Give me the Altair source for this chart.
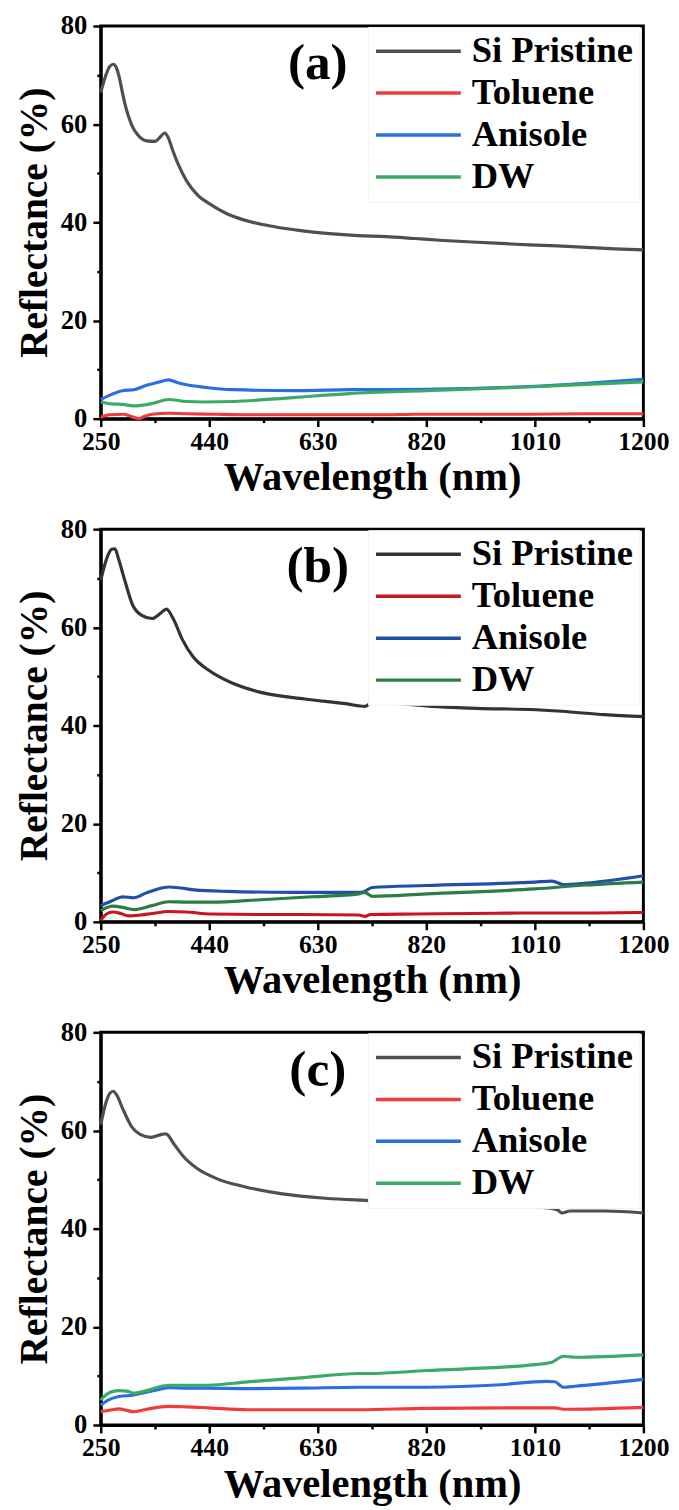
import altair as alt
import pandas as pd

SERIES = ["Si Pristine", "Toluene", "Anisole", "DW"]
PANEL_LABELS = ["(a)", "(b)", "(c)"]
X_TICKS = [250, 345, 440, 535, 630, 725, 820, 915, 1010, 1105, 1200]
Y_TICKS = [0, 10, 20, 30, 40, 50, 60, 70, 80]

COLORS_A = ["#4f4f4f", "#ef3b3b", "#2a6fe0", "#3aaa64"]
COLORS_B = ["#333333", "#c8161e", "#1f4fa6", "#2a7d45"]
COLORS_C = ["#4f4f4f", "#ef3b3b", "#2a6fe0", "#3aaa64"]

# ---------------- Panel (a) ----------------
A_SI_WL = [250, 260, 266, 272, 277, 282, 287, 292, 298, 305, 315, 330, 345, 355, 362, 368, 375, 385, 400,
           420, 440, 470, 500, 550, 600, 650, 700, 750, 800, 850, 900, 950, 1000, 1050, 1100, 1150, 1200]
A_SI_R = [66.5, 70.3, 71.8, 72.2, 71.6, 69.8, 67.0, 64.3, 61.8, 59.6, 57.8, 56.6, 56.5, 57.5, 58.2, 57.3,
          55.0, 52.0, 48.5, 45.5, 43.8, 41.8, 40.5, 39.2, 38.3, 37.7, 37.3, 37.1, 36.7, 36.3, 36.0, 35.7,
          35.4, 35.2, 34.9, 34.6, 34.4]
A_TO_WL = [250, 265, 290, 300, 310, 317, 325, 340, 370, 400, 450, 500, 600, 700, 750, 800, 900, 1000, 1100, 1200]
A_TO_R = [0.3, 0.8, 0.9, 0.6, 0.2, 0.0, 0.4, 0.9, 1.1, 1.0, 0.9, 0.8, 0.8, 0.8, 0.8, 0.9, 0.9, 0.9, 1.0, 1.0]
A_AN_WL = [250, 270, 288, 308, 330, 350, 369, 385, 400, 431, 483, 587, 685, 820, 1010, 1100, 1200]
A_AN_R = [3.9, 5.0, 5.7, 5.9, 6.8, 7.4, 7.9, 7.3, 6.9, 6.4, 5.9, 5.7, 5.9, 6.0, 6.6, 7.2, 8.0]
A_DW_WL = [250, 270, 288, 308, 340, 369, 400, 431, 483, 587, 685, 820, 1010, 1100, 1200]
A_DW_R = [3.4, 3.0, 2.9, 2.6, 3.1, 3.9, 3.5, 3.4, 3.5, 4.3, 5.1, 5.7, 6.5, 7.0, 7.5]

# ---------------- Panel (b) ----------------
B_SI_WL = [250, 262, 269, 275, 281, 291, 306, 321, 340, 355, 365, 378, 393, 411, 441, 479, 532, 607, 682,
           712, 727, 757, 832, 907, 1012, 1057, 1132, 1200]
B_SI_R = [69.6, 74.5, 75.9, 76.0, 74.0, 70.0, 64.5, 62.5, 61.8, 62.9, 63.7, 61.5, 57.5, 54.1, 51.1, 48.7,
          46.7, 45.4, 44.4, 43.9, 44.8, 44.6, 43.9, 43.5, 43.2, 42.9, 42.2, 41.8]
B_TO_WL = [250, 260, 271, 285, 299, 320, 340, 369, 400, 443, 530, 600, 702, 713, 722, 800, 900, 1000, 1100, 1200]
B_TO_R = [0.3, 1.6, 2.0, 1.7, 1.2, 1.4, 1.7, 2.1, 2.0, 1.6, 1.5, 1.5, 1.4, 1.1, 1.5, 1.6, 1.7, 1.8, 1.8, 1.9]
B_AN_WL = [250, 270, 288, 308, 330, 350, 369, 390, 414, 472, 587, 702, 712, 725, 820, 1010, 1040, 1060,
           1100, 1200]
B_AN_R = [3.3, 4.3, 5.1, 4.9, 5.9, 6.7, 7.1, 6.9, 6.5, 6.2, 6.0, 6.0, 6.2, 7.0, 7.4, 8.1, 8.3, 7.6, 7.9, 9.4]
B_DW_WL = [250, 271, 290, 308, 340, 369, 400, 443, 530, 620, 702, 712, 725, 820, 1010, 1100, 1200]
B_DW_R = [2.3, 3.2, 2.9, 2.5, 3.3, 4.1, 4.0, 4.0, 4.5, 5.1, 5.7, 6.0, 5.2, 5.7, 6.7, 7.5, 8.1]

# ---------------- Panel (c) ----------------
C_SI_WL = [250, 260, 266, 272, 278, 289, 304, 319, 338, 357, 364, 379, 394, 417, 455, 500, 568, 643, 726,
           831, 944, 1034, 1050, 1057, 1072, 1132, 1200]
C_SI_R = [61.2, 66.0, 67.6, 68.0, 67.2, 64.3, 60.8, 59.2, 58.6, 59.2, 59.3, 57.1, 54.8, 52.4, 50.1, 48.6,
          47.1, 46.2, 45.7, 45.0, 44.6, 44.2, 43.8, 43.2, 43.6, 43.6, 43.2]
C_TO_WL = [250, 265, 282, 295, 308, 330, 350, 369, 400, 438, 507, 600, 702, 820, 1010, 1045, 1060, 1200]
C_TO_R = [2.7, 3.0, 3.3, 3.0, 2.7, 3.2, 3.6, 3.8, 3.7, 3.5, 3.1, 3.1, 3.1, 3.4, 3.5, 3.5, 3.2, 3.6]
C_AN_WL = [250, 262, 282, 308, 330, 350, 369, 400, 438, 507, 600, 702, 820, 950, 1030, 1045, 1060, 1080, 1200]
C_AN_R = [4.0, 5.0, 5.8, 6.1, 6.7, 7.2, 7.6, 7.5, 7.5, 7.4, 7.5, 7.7, 7.7, 8.2, 8.9, 8.8, 7.7, 7.9, 9.3]
C_DW_WL = [250, 260, 270, 282, 296, 308, 330, 350, 369, 400, 438, 507, 600, 702, 720, 820, 1010, 1040,
           1060, 1080, 1200]
C_DW_R = [5.1, 6.2, 6.8, 7.0, 6.9, 6.5, 7.0, 7.7, 8.1, 8.1, 8.1, 8.8, 9.6, 10.5, 10.5, 11.1, 12.3, 12.8,
          14.0, 13.8, 14.3]

PANELS = [
    (PANEL_LABELS[0], COLORS_A, [(A_SI_WL, A_SI_R), (A_TO_WL, A_TO_R), (A_AN_WL, A_AN_R), (A_DW_WL, A_DW_R)]),
    (PANEL_LABELS[1], COLORS_B, [(B_SI_WL, B_SI_R), (B_TO_WL, B_TO_R), (B_AN_WL, B_AN_R), (B_DW_WL, B_DW_R)]),
    (PANEL_LABELS[2], COLORS_C, [(C_SI_WL, C_SI_R), (C_TO_WL, C_TO_R), (C_AN_WL, C_AN_R), (C_DW_WL, C_DW_R)]),
]

FONT = "Liberation Serif"
W, H = 550, 398


def make_panel(label, colors, series_data):
    rows = []
    for name, (wl, r) in zip(SERIES, series_data):
        for i, (x, y) in enumerate(zip(wl, r)):
            rows.append({"wl": x, "R": y, "series": name, "idx": i})
    df = pd.DataFrame(rows)

    x_axis = alt.Axis(
        values=X_TICKS, format="d", title="Wavelength (nm)",
        labelExpr="(datum.value - 250) % 190 == 0 ? datum.label : ''",
        tickSize={"condition": {"test": "(datum.value - 250) % 190 == 0", "value": 8}, "value": 4},
        labelFlush=False, labelOverlap=False, grid=False,
        labelFontSize=26, titleFontSize=41, labelPadding=2, titlePadding=4,
    )
    y_axis = alt.Axis(
        values=Y_TICKS, format="d", title="Reflectance (%)",
        labelExpr="datum.value % 20 == 0 ? datum.label : ''",
        tickSize={"condition": {"test": "datum.value % 20 == 0", "value": 8}, "value": 4},
        labelFlush=False, labelOverlap=False, grid=False,
        labelFontSize=27, titleFontSize=40, labelPadding=6, titlePadding=6,
    )
    lines = alt.Chart(df).mark_line(strokeWidth=3.2, interpolate="monotone").encode(
        x=alt.X("wl:Q", scale=alt.Scale(domain=[250, 1200], nice=False, zero=False), axis=x_axis),
        y=alt.Y("R:Q", scale=alt.Scale(domain=[0, 80], nice=False), axis=y_axis),
        color=alt.Color(
            "series:N",
            scale=alt.Scale(domain=SERIES, range=colors),
            sort=SERIES,
            legend=alt.Legend(
                title=None, orient="none", legendX=271, legendY=1,
                symbolType="stroke", symbolSize=7396, symbolStrokeWidth=3.5,
                clipHeight=37, rowPadding=4.5, labelOffset=9,
                labelFont=FONT, labelFontSize=37, labelFontWeight="bold", labelColor="black",
                labelLimit=0, padding=6, fillColor="white", strokeColor="#f2f2f2",
            ),
        ),
        order="idx:Q",
    )
    tag = alt.Chart(pd.DataFrame({"t": [label]})).mark_text(
        font=FONT, fontSize=52, fontWeight="bold", color="black", align="center", baseline="middle"
    ).encode(text="t:N", x=alt.value(220), y=alt.value(38))
    return alt.layer(lines, tag).properties(width=W, height=H).resolve_scale(color="independent")


charts = [make_panel(l, c, s) for l, c, s in PANELS]
chart = alt.vconcat(*charts, spacing=14).resolve_scale(color="independent").configure(
    font=FONT, padding={"left": 5, "top": -8, "right": 0, "bottom": 0}
).configure_view(
    stroke="black", strokeWidth=3
).configure_axis(
    labelFont=FONT, titleFont=FONT, labelFontWeight="bold", titleFontWeight="bold",
    labelColor="black", titleColor="black", domainColor="black", domainWidth=3,
    tickColor="black", tickWidth=2.5,
)

chart.save("out.html", embed_options={"renderer": "svg", "actions": False})
